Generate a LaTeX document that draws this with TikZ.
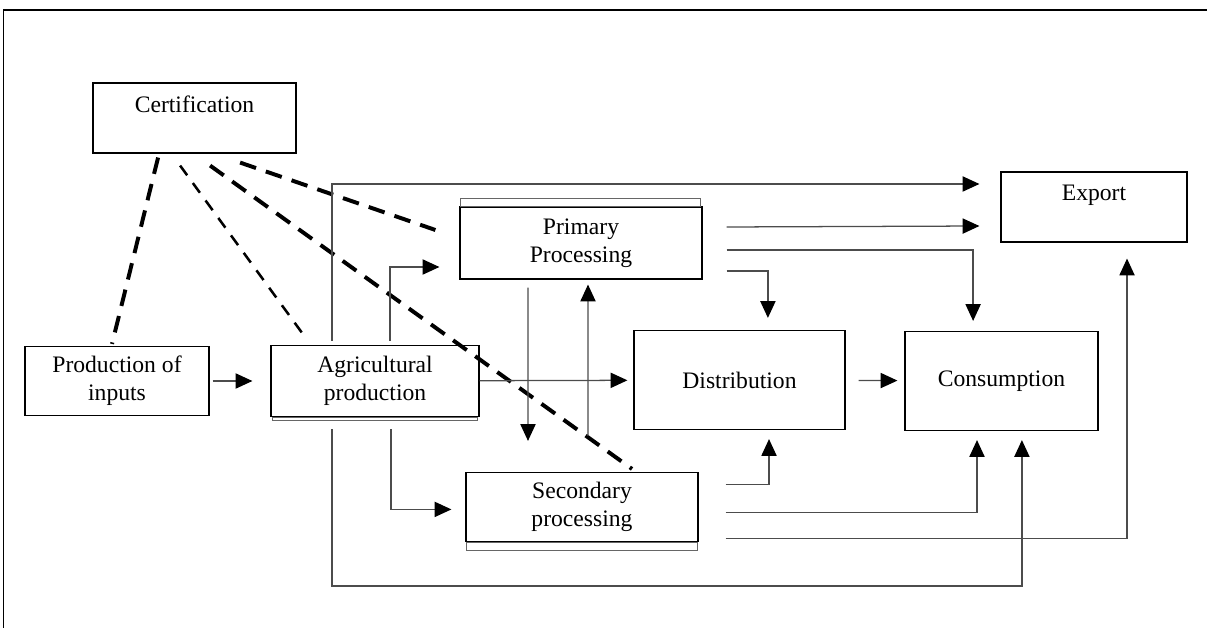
\documentclass[tikz,border=0pt]{standalone}
\usepackage{fontspec}
\setmainfont{Liberation Serif}
\usetikzlibrary{arrows.meta}

\begin{document}
\begin{tikzpicture}[x=0.025cm,y=-0.025cm,
  box/.style={draw, rectangle, line width=0.8pt, align=center, inner sep=2pt,
    font=\fontsize{16.8}{20}\selectfont},
  arr/.style={draw=black!70, line width=0.9pt,
    -{Triangle[length=0.42cm,width=0.38cm,color=black]}},
  certdash/.style={line width=2.8pt, dash pattern=on 0.42cm off 0.26cm},
  certthin/.style={line width=1.8pt, dash pattern=on 0.3cm off 0.24cm},
  shadowline/.style={draw=black!60, line width=0.6pt}]
\useasboundingbox (0,0) rectangle (1207,628);
% frame
\draw[line width=1.4pt] (3.5,628) -- (3.5,10) -- (1207,10);

\node[box, minimum width=5.075cm, minimum height=1.75cm] (cert) at (194.5,118) {Certification\\~};
\node[box, minimum width=4.6cm, minimum height=1.725cm] (prodin) at (117,381) {Production of\\inputs};
\node[box, minimum width=5.2cm, minimum height=1.775cm] (agri) at (375,381) {Agricultural\\production};
\node[box, minimum width=6.05cm, minimum height=1.8cm] (prim) at (581,243) {Primary\\Processing};
\node[box, minimum width=5.8cm, minimum height=1.725cm] (sec) at (582,507) {Secondary\\processing};
\node[box, minimum width=5.275cm, minimum height=2.475cm] (dist) at (739.5,380) {Distribution};
\node[box, minimum width=4.825cm, minimum height=2.475cm] (cons) at (1001.5,381) {Consumption};
\node[box, minimum width=4.65cm, minimum height=1.75cm] (export) at (1094,207) {Export\\~};

% doubled edges
\draw[shadowline] ([xshift=0.05cm]agri.south west) rectangle ([xshift=-0.05cm,yshift=-0.09cm]agri.south east);
\draw[shadowline] ([xshift=0.025cm]sec.south west) rectangle ([xshift=-0.025cm,yshift=-0.2cm]sec.south east);
\draw[shadowline] ([xshift=0.025cm]prim.north west) rectangle ([xshift=-0.05cm,yshift=0.2cm]prim.north east);

% certification links
\draw[certdash] ([xshift=-0.91cm,yshift=-0.1cm]cert.south) -- ([xshift=-0.125cm,yshift=0.05cm]prodin.north);
\draw[certthin] ([xshift=-0.36cm,yshift=-0.3cm]cert.south) -- ([xshift=-1.75cm,yshift=0.2cm]agri.north);
\draw[certdash] ([xshift=1.14cm,yshift=-0.225cm]cert.south) -- ([xshift=-0.6cm,yshift=0.325cm]prim.west);
\draw[certdash] ([xshift=0.39cm,yshift=-0.3cm]cert.south) -- ([xshift=1.25cm,yshift=0.075cm]sec.north);

% flows
\draw[arr, shorten <=0.075cm, shorten >=0.45cm] (prodin) -- (agri);
\draw[arr, shorten >=0.15cm] (agri) -- (dist);
\draw[arr, shorten <=0.325cm, shorten >=0.175cm] (dist) -- (cons);
\draw[arr] ([xshift=0.375cm,yshift=0.1cm]agri.north) |- ([xshift=-0.5cm,yshift=-0.6cm]prim.west);
\draw[arr] ([xshift=0.4cm,yshift=-0.3cm]agri.south) |- ([xshift=-0.35cm,yshift=-0.06cm]sec.west);
\draw[arr] ([xshift=-1.075cm,yshift=0.1cm]agri.north) |- ([xshift=-0.525cm,yshift=0.575cm]export.west);
\draw[arr] ([xshift=-1.075cm,yshift=-0.3cm]agri.south) -- ++(0,157) -| ([xshift=0.51cm,yshift=-0.225cm]cons.south);
\draw[arr] ([xshift=-1.325cm,yshift=-0.2cm]prim.south) -- ([xshift=-1.35cm,yshift=0.775cm]sec.north);
\draw[arr] ([xshift=0.15cm,yshift=0.9cm]sec.north) -- ([xshift=0.175cm,yshift=-0.125cm]prim.south);
\draw[arr] ([xshift=0.6cm,yshift=0.4cm]prim.east) -- ([xshift=-0.525cm,yshift=-0.475cm]export.west);
\draw[arr] ([xshift=0.6cm,yshift=-0.175cm]prim.east) -| ([xshift=-0.71cm,yshift=0.25cm]cons.north);
\draw[arr] ([xshift=0.6cm,yshift=-0.7cm]prim.east) -| ([xshift=0.71cm,yshift=0.3cm]dist.north);
\draw[arr] ([xshift=0.675cm,yshift=0.5625cm]sec.east) -| ([xshift=0.7375cm,yshift=-0.225cm]dist.south);
\draw[arr] ([xshift=0.675cm,yshift=-0.1375cm]sec.east) -| ([xshift=-0.6125cm,yshift=-0.225cm]cons.south);
\draw[arr] ([xshift=0.675cm,yshift=-0.7875cm]sec.east) -| ([xshift=0.825cm,yshift=-0.4cm]export.south);
\end{tikzpicture}
\end{document}
